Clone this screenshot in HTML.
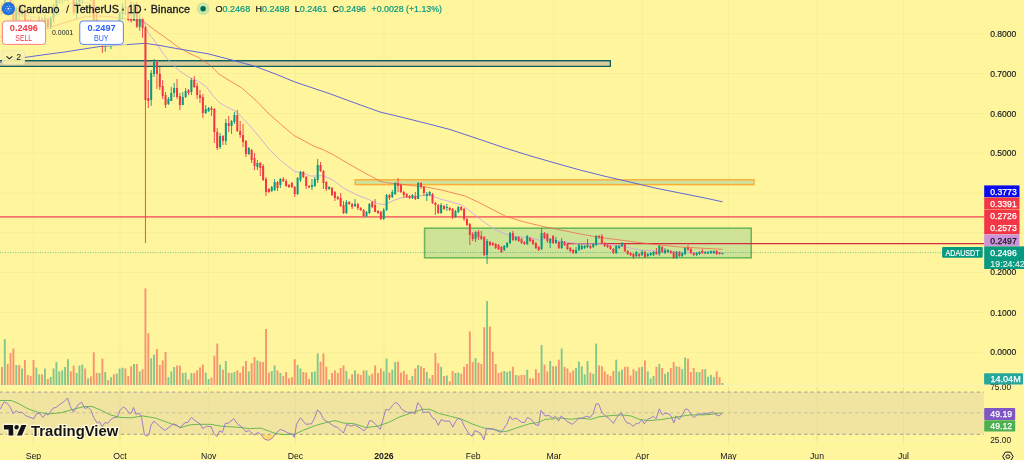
<!DOCTYPE html>
<html lang="en"><head><meta charset="utf-8"><title>Cardano / TetherUS chart</title>
<style>html,body{margin:0;padding:0;background:#fff59d;}body{width:1024px;height:460px;overflow:hidden;font-family:"Liberation Sans",sans-serif}svg{display:block}</style>
</head><body>
<svg width="1024" height="460" viewBox="0 0 1024 460" font-family="'Liberation Sans', sans-serif">
<rect width="1024" height="460" fill="#fff59d"/>
<path d="M33.4 0V446 M120.0 0V446 M208.7 0V446 M295.4 0V446 M383.9 0V446 M473.2 0V446 M553.9 0V446 M642.3 0V446 M728.5 0V446 M817.0 0V446 M903.5 0V446 M0 33.8H983 M0 73.6H983 M0 113.4H983 M0 153.2H983 M0 193.0H983 M0 232.8H983 M0 272.6H983 M0 312.4H983 M0 352.2H983" stroke="#f7ee97" stroke-width="1" fill="none"/>
<rect x="0" y="385" width="1024" height="1.2" fill="#f8f3bd"/>
<rect x="0" y="440.2" width="983" height="0.8" fill="#fbf4b0"/>
<rect x="0" y="392" width="983.8" height="42.3" fill="#f0e4a0"/>
<path d="M33.4 387V441 M120.0 387V441 M208.7 387V441 M295.4 387V441 M383.9 387V441 M473.2 387V441 M553.9 387V441 M642.3 387V441 M728.5 387V441 M817.0 387V441 M903.5 387V441" stroke="#e6dc90" stroke-width="1" fill="none" opacity="0.6"/>
<path d="M0 392.1H983.8" stroke="#96949a" stroke-width="0.9" stroke-dasharray="3.2 3.187" stroke-dashoffset="0.5" opacity="1" fill="none"/>
<path d="M0 412.8H983.8" stroke="#96949a" stroke-width="0.9" stroke-dasharray="3.2 3.187" stroke-dashoffset="0.5" opacity="0.55" fill="none"/>
<path d="M0 434.3H983.8" stroke="#96949a" stroke-width="0.9" stroke-dasharray="3.2 3.187" stroke-dashoffset="0.5" opacity="1" fill="none"/>
<rect x="0.97" y="367.0" width="1.9" height="18.0" fill="#f23645" opacity="0.5"/>
<rect x="3.84" y="339.0" width="1.9" height="46.0" fill="#089981" opacity="0.5"/>
<rect x="6.71" y="364.0" width="1.9" height="21.0" fill="#f23645" opacity="0.5"/>
<rect x="9.58" y="353.0" width="1.9" height="32.0" fill="#f23645" opacity="0.5"/>
<rect x="12.45" y="348.5" width="1.9" height="36.5" fill="#f23645" opacity="0.5"/>
<rect x="15.32" y="365.0" width="1.9" height="20.0" fill="#089981" opacity="0.5"/>
<rect x="18.19" y="365.0" width="1.9" height="20.0" fill="#f23645" opacity="0.5"/>
<rect x="21.06" y="368.5" width="1.9" height="16.5" fill="#089981" opacity="0.5"/>
<rect x="23.93" y="360.0" width="1.9" height="25.0" fill="#f23645" opacity="0.5"/>
<rect x="26.81" y="375.0" width="1.9" height="10.0" fill="#f23645" opacity="0.5"/>
<rect x="29.68" y="376.0" width="1.9" height="9.0" fill="#f23645" opacity="0.5"/>
<rect x="32.55" y="360.0" width="1.9" height="25.0" fill="#f23645" opacity="0.5"/>
<rect x="35.42" y="367.5" width="1.9" height="17.5" fill="#089981" opacity="0.5"/>
<rect x="38.29" y="374.3" width="1.9" height="10.7" fill="#089981" opacity="0.5"/>
<rect x="41.16" y="374.3" width="1.9" height="10.7" fill="#f23645" opacity="0.5"/>
<rect x="44.03" y="368.5" width="1.9" height="16.5" fill="#089981" opacity="0.5"/>
<rect x="46.90" y="379.0" width="1.9" height="6.0" fill="#f23645" opacity="0.5"/>
<rect x="49.77" y="377.0" width="1.9" height="8.0" fill="#089981" opacity="0.5"/>
<rect x="52.64" y="368.5" width="1.9" height="16.5" fill="#089981" opacity="0.5"/>
<rect x="55.51" y="362.0" width="1.9" height="23.0" fill="#089981" opacity="0.5"/>
<rect x="58.38" y="371.4" width="1.9" height="13.6" fill="#089981" opacity="0.5"/>
<rect x="61.25" y="370.4" width="1.9" height="14.6" fill="#089981" opacity="0.5"/>
<rect x="64.12" y="367.0" width="1.9" height="18.0" fill="#089981" opacity="0.5"/>
<rect x="66.99" y="359.2" width="1.9" height="25.8" fill="#089981" opacity="0.5"/>
<rect x="69.86" y="371.4" width="1.9" height="13.6" fill="#f23645" opacity="0.5"/>
<rect x="72.73" y="365.5" width="1.9" height="19.5" fill="#f23645" opacity="0.5"/>
<rect x="75.61" y="373.0" width="1.9" height="12.0" fill="#089981" opacity="0.5"/>
<rect x="78.48" y="365.5" width="1.9" height="19.5" fill="#089981" opacity="0.5"/>
<rect x="81.35" y="364.6" width="1.9" height="20.4" fill="#089981" opacity="0.5"/>
<rect x="84.22" y="368.5" width="1.9" height="16.5" fill="#f23645" opacity="0.5"/>
<rect x="87.09" y="378.5" width="1.9" height="6.5" fill="#089981" opacity="0.5"/>
<rect x="89.96" y="376.5" width="1.9" height="8.5" fill="#f23645" opacity="0.5"/>
<rect x="92.83" y="352.4" width="1.9" height="32.6" fill="#f23645" opacity="0.5"/>
<rect x="95.70" y="373.0" width="1.9" height="12.0" fill="#f23645" opacity="0.5"/>
<rect x="98.57" y="373.0" width="1.9" height="12.0" fill="#089981" opacity="0.5"/>
<rect x="101.44" y="358.7" width="1.9" height="26.3" fill="#f23645" opacity="0.5"/>
<rect x="104.31" y="372.0" width="1.9" height="13.0" fill="#089981" opacity="0.5"/>
<rect x="107.18" y="380.1" width="1.9" height="4.9" fill="#f23645" opacity="0.5"/>
<rect x="110.05" y="377.2" width="1.9" height="7.8" fill="#089981" opacity="0.5"/>
<rect x="112.92" y="374.3" width="1.9" height="10.7" fill="#f23645" opacity="0.5"/>
<rect x="115.79" y="373.6" width="1.9" height="11.4" fill="#089981" opacity="0.5"/>
<rect x="118.66" y="368.5" width="1.9" height="16.5" fill="#089981" opacity="0.5"/>
<rect x="121.54" y="367.7" width="1.9" height="17.3" fill="#089981" opacity="0.5"/>
<rect x="124.41" y="368.5" width="1.9" height="16.5" fill="#f23645" opacity="0.5"/>
<rect x="127.28" y="376.0" width="1.9" height="9.0" fill="#f23645" opacity="0.5"/>
<rect x="130.15" y="366.3" width="1.9" height="18.7" fill="#f23645" opacity="0.5"/>
<rect x="133.02" y="364.0" width="1.9" height="21.0" fill="#089981" opacity="0.5"/>
<rect x="135.89" y="364.0" width="1.9" height="21.0" fill="#f23645" opacity="0.5"/>
<rect x="138.76" y="371.4" width="1.9" height="13.6" fill="#089981" opacity="0.5"/>
<rect x="141.63" y="369.2" width="1.9" height="15.8" fill="#f23645" opacity="0.5"/>
<rect x="144.50" y="288.4" width="1.9" height="96.6" fill="#f23645" opacity="0.5"/>
<rect x="147.37" y="333.2" width="1.9" height="51.8" fill="#f23645" opacity="0.5"/>
<rect x="150.24" y="358.2" width="1.9" height="26.8" fill="#089981" opacity="0.5"/>
<rect x="153.11" y="354.6" width="1.9" height="30.4" fill="#089981" opacity="0.5"/>
<rect x="155.98" y="349.0" width="1.9" height="36.0" fill="#f23645" opacity="0.5"/>
<rect x="158.85" y="365.0" width="1.9" height="20.0" fill="#f23645" opacity="0.5"/>
<rect x="161.72" y="360.4" width="1.9" height="24.6" fill="#f23645" opacity="0.5"/>
<rect x="164.59" y="352.0" width="1.9" height="33.0" fill="#f23645" opacity="0.5"/>
<rect x="167.46" y="377.2" width="1.9" height="7.8" fill="#089981" opacity="0.5"/>
<rect x="170.34" y="371.4" width="1.9" height="13.6" fill="#089981" opacity="0.5"/>
<rect x="173.21" y="367.0" width="1.9" height="18.0" fill="#089981" opacity="0.5"/>
<rect x="176.08" y="365.5" width="1.9" height="19.5" fill="#f23645" opacity="0.5"/>
<rect x="178.95" y="365.5" width="1.9" height="19.5" fill="#f23645" opacity="0.5"/>
<rect x="181.82" y="373.0" width="1.9" height="12.0" fill="#089981" opacity="0.5"/>
<rect x="184.69" y="372.6" width="1.9" height="12.4" fill="#089981" opacity="0.5"/>
<rect x="187.56" y="379.6" width="1.9" height="5.4" fill="#f23645" opacity="0.5"/>
<rect x="190.43" y="373.0" width="1.9" height="12.0" fill="#089981" opacity="0.5"/>
<rect x="193.30" y="373.0" width="1.9" height="12.0" fill="#f23645" opacity="0.5"/>
<rect x="196.17" y="370.4" width="1.9" height="14.6" fill="#f23645" opacity="0.5"/>
<rect x="199.04" y="367.5" width="1.9" height="17.5" fill="#f23645" opacity="0.5"/>
<rect x="201.91" y="364.6" width="1.9" height="20.4" fill="#f23645" opacity="0.5"/>
<rect x="204.78" y="372.6" width="1.9" height="12.4" fill="#089981" opacity="0.5"/>
<rect x="207.65" y="379.0" width="1.9" height="6.0" fill="#089981" opacity="0.5"/>
<rect x="210.52" y="377.7" width="1.9" height="7.3" fill="#f23645" opacity="0.5"/>
<rect x="213.39" y="355.8" width="1.9" height="29.2" fill="#f23645" opacity="0.5"/>
<rect x="216.27" y="343.6" width="1.9" height="41.4" fill="#f23645" opacity="0.5"/>
<rect x="219.14" y="364.6" width="1.9" height="20.4" fill="#089981" opacity="0.5"/>
<rect x="222.01" y="369.7" width="1.9" height="15.3" fill="#f23645" opacity="0.5"/>
<rect x="224.88" y="361.0" width="1.9" height="24.0" fill="#089981" opacity="0.5"/>
<rect x="227.75" y="372.6" width="1.9" height="12.4" fill="#f23645" opacity="0.5"/>
<rect x="230.62" y="373.0" width="1.9" height="12.0" fill="#089981" opacity="0.5"/>
<rect x="233.49" y="372.0" width="1.9" height="13.0" fill="#089981" opacity="0.5"/>
<rect x="236.36" y="370.4" width="1.9" height="14.6" fill="#f23645" opacity="0.5"/>
<rect x="239.23" y="372.6" width="1.9" height="12.4" fill="#f23645" opacity="0.5"/>
<rect x="242.10" y="366.3" width="1.9" height="18.7" fill="#f23645" opacity="0.5"/>
<rect x="244.97" y="361.0" width="1.9" height="24.0" fill="#f23645" opacity="0.5"/>
<rect x="247.84" y="371.4" width="1.9" height="13.6" fill="#089981" opacity="0.5"/>
<rect x="250.71" y="363.3" width="1.9" height="21.7" fill="#f23645" opacity="0.5"/>
<rect x="253.58" y="357.0" width="1.9" height="28.0" fill="#f23645" opacity="0.5"/>
<rect x="256.45" y="360.4" width="1.9" height="24.6" fill="#089981" opacity="0.5"/>
<rect x="259.32" y="361.6" width="1.9" height="23.4" fill="#f23645" opacity="0.5"/>
<rect x="262.19" y="362.1" width="1.9" height="22.9" fill="#f23645" opacity="0.5"/>
<rect x="265.07" y="329.0" width="1.9" height="56.0" fill="#f23645" opacity="0.5"/>
<rect x="267.94" y="372.6" width="1.9" height="12.4" fill="#f23645" opacity="0.5"/>
<rect x="270.81" y="371.0" width="1.9" height="14.0" fill="#089981" opacity="0.5"/>
<rect x="273.68" y="365.5" width="1.9" height="19.5" fill="#089981" opacity="0.5"/>
<rect x="276.55" y="370.4" width="1.9" height="14.6" fill="#f23645" opacity="0.5"/>
<rect x="279.42" y="373.0" width="1.9" height="12.0" fill="#089981" opacity="0.5"/>
<rect x="282.29" y="376.0" width="1.9" height="9.0" fill="#f23645" opacity="0.5"/>
<rect x="285.16" y="372.0" width="1.9" height="13.0" fill="#f23645" opacity="0.5"/>
<rect x="288.03" y="378.4" width="1.9" height="6.6" fill="#f23645" opacity="0.5"/>
<rect x="290.90" y="377.2" width="1.9" height="7.8" fill="#f23645" opacity="0.5"/>
<rect x="293.77" y="359.2" width="1.9" height="25.8" fill="#f23645" opacity="0.5"/>
<rect x="296.64" y="365.0" width="1.9" height="20.0" fill="#089981" opacity="0.5"/>
<rect x="299.51" y="368.5" width="1.9" height="16.5" fill="#089981" opacity="0.5"/>
<rect x="302.38" y="372.0" width="1.9" height="13.0" fill="#f23645" opacity="0.5"/>
<rect x="305.25" y="372.6" width="1.9" height="12.4" fill="#f23645" opacity="0.5"/>
<rect x="308.12" y="379.0" width="1.9" height="6.0" fill="#f23645" opacity="0.5"/>
<rect x="310.99" y="372.0" width="1.9" height="13.0" fill="#089981" opacity="0.5"/>
<rect x="313.87" y="371.4" width="1.9" height="13.6" fill="#089981" opacity="0.5"/>
<rect x="316.74" y="353.4" width="1.9" height="31.6" fill="#089981" opacity="0.5"/>
<rect x="319.61" y="361.6" width="1.9" height="23.4" fill="#f23645" opacity="0.5"/>
<rect x="322.48" y="353.4" width="1.9" height="31.6" fill="#f23645" opacity="0.5"/>
<rect x="325.35" y="366.8" width="1.9" height="18.2" fill="#f23645" opacity="0.5"/>
<rect x="328.22" y="379.6" width="1.9" height="5.4" fill="#089981" opacity="0.5"/>
<rect x="331.09" y="373.0" width="1.9" height="12.0" fill="#f23645" opacity="0.5"/>
<rect x="333.96" y="370.4" width="1.9" height="14.6" fill="#f23645" opacity="0.5"/>
<rect x="336.83" y="373.0" width="1.9" height="12.0" fill="#f23645" opacity="0.5"/>
<rect x="339.70" y="368.0" width="1.9" height="17.0" fill="#f23645" opacity="0.5"/>
<rect x="342.57" y="365.5" width="1.9" height="19.5" fill="#f23645" opacity="0.5"/>
<rect x="345.44" y="371.0" width="1.9" height="14.0" fill="#089981" opacity="0.5"/>
<rect x="348.31" y="379.0" width="1.9" height="6.0" fill="#f23645" opacity="0.5"/>
<rect x="351.18" y="374.3" width="1.9" height="10.7" fill="#f23645" opacity="0.5"/>
<rect x="354.05" y="370.4" width="1.9" height="14.6" fill="#089981" opacity="0.5"/>
<rect x="356.92" y="373.8" width="1.9" height="11.2" fill="#f23645" opacity="0.5"/>
<rect x="359.80" y="375.0" width="1.9" height="10.0" fill="#f23645" opacity="0.5"/>
<rect x="362.67" y="370.4" width="1.9" height="14.6" fill="#f23645" opacity="0.5"/>
<rect x="365.54" y="370.4" width="1.9" height="14.6" fill="#089981" opacity="0.5"/>
<rect x="368.41" y="375.5" width="1.9" height="9.5" fill="#089981" opacity="0.5"/>
<rect x="371.28" y="373.8" width="1.9" height="11.2" fill="#f23645" opacity="0.5"/>
<rect x="374.15" y="365.5" width="1.9" height="19.5" fill="#f23645" opacity="0.5"/>
<rect x="377.02" y="373.0" width="1.9" height="12.0" fill="#f23645" opacity="0.5"/>
<rect x="379.89" y="368.5" width="1.9" height="16.5" fill="#f23645" opacity="0.5"/>
<rect x="382.76" y="371.4" width="1.9" height="13.6" fill="#089981" opacity="0.5"/>
<rect x="385.63" y="358.7" width="1.9" height="26.3" fill="#089981" opacity="0.5"/>
<rect x="388.50" y="372.6" width="1.9" height="12.4" fill="#f23645" opacity="0.5"/>
<rect x="391.37" y="369.7" width="1.9" height="15.3" fill="#089981" opacity="0.5"/>
<rect x="394.24" y="362.1" width="1.9" height="22.9" fill="#089981" opacity="0.5"/>
<rect x="397.11" y="361.6" width="1.9" height="23.4" fill="#f23645" opacity="0.5"/>
<rect x="399.98" y="372.6" width="1.9" height="12.4" fill="#f23645" opacity="0.5"/>
<rect x="402.85" y="371.0" width="1.9" height="14.0" fill="#f23645" opacity="0.5"/>
<rect x="405.72" y="374.3" width="1.9" height="10.7" fill="#f23645" opacity="0.5"/>
<rect x="408.60" y="380.1" width="1.9" height="4.9" fill="#f23645" opacity="0.5"/>
<rect x="411.47" y="376.0" width="1.9" height="9.0" fill="#089981" opacity="0.5"/>
<rect x="414.34" y="368.5" width="1.9" height="16.5" fill="#f23645" opacity="0.5"/>
<rect x="417.21" y="365.0" width="1.9" height="20.0" fill="#089981" opacity="0.5"/>
<rect x="420.08" y="366.3" width="1.9" height="18.7" fill="#f23645" opacity="0.5"/>
<rect x="422.95" y="368.0" width="1.9" height="17.0" fill="#f23645" opacity="0.5"/>
<rect x="425.82" y="372.0" width="1.9" height="13.0" fill="#089981" opacity="0.5"/>
<rect x="428.69" y="378.4" width="1.9" height="6.6" fill="#089981" opacity="0.5"/>
<rect x="431.56" y="375.0" width="1.9" height="10.0" fill="#f23645" opacity="0.5"/>
<rect x="434.43" y="353.0" width="1.9" height="32.0" fill="#f23645" opacity="0.5"/>
<rect x="437.30" y="363.3" width="1.9" height="21.7" fill="#f23645" opacity="0.5"/>
<rect x="440.17" y="366.8" width="1.9" height="18.2" fill="#089981" opacity="0.5"/>
<rect x="443.04" y="376.0" width="1.9" height="9.0" fill="#f23645" opacity="0.5"/>
<rect x="445.91" y="375.5" width="1.9" height="9.5" fill="#089981" opacity="0.5"/>
<rect x="448.78" y="381.4" width="1.9" height="3.6" fill="#f23645" opacity="0.5"/>
<rect x="451.65" y="371.0" width="1.9" height="14.0" fill="#f23645" opacity="0.5"/>
<rect x="454.52" y="373.0" width="1.9" height="12.0" fill="#089981" opacity="0.5"/>
<rect x="457.40" y="372.6" width="1.9" height="12.4" fill="#089981" opacity="0.5"/>
<rect x="460.27" y="373.8" width="1.9" height="11.2" fill="#f23645" opacity="0.5"/>
<rect x="463.14" y="366.8" width="1.9" height="18.2" fill="#f23645" opacity="0.5"/>
<rect x="466.01" y="364.0" width="1.9" height="21.0" fill="#f23645" opacity="0.5"/>
<rect x="468.88" y="331.5" width="1.9" height="53.5" fill="#f23645" opacity="0.5"/>
<rect x="471.75" y="362.1" width="1.9" height="22.9" fill="#f23645" opacity="0.5"/>
<rect x="474.62" y="358.2" width="1.9" height="26.8" fill="#089981" opacity="0.5"/>
<rect x="477.49" y="362.6" width="1.9" height="22.4" fill="#f23645" opacity="0.5"/>
<rect x="480.36" y="364.0" width="1.9" height="21.0" fill="#f23645" opacity="0.5"/>
<rect x="483.23" y="327.3" width="1.9" height="57.7" fill="#f23645" opacity="0.5"/>
<rect x="486.10" y="301.0" width="1.9" height="84.0" fill="#089981" opacity="0.5"/>
<rect x="488.97" y="326.6" width="1.9" height="58.4" fill="#f23645" opacity="0.5"/>
<rect x="491.84" y="351.7" width="1.9" height="33.3" fill="#f23645" opacity="0.5"/>
<rect x="494.71" y="364.0" width="1.9" height="21.0" fill="#f23645" opacity="0.5"/>
<rect x="497.58" y="373.0" width="1.9" height="12.0" fill="#f23645" opacity="0.5"/>
<rect x="500.45" y="372.0" width="1.9" height="13.0" fill="#f23645" opacity="0.5"/>
<rect x="503.33" y="371.0" width="1.9" height="14.0" fill="#089981" opacity="0.5"/>
<rect x="506.20" y="372.0" width="1.9" height="13.0" fill="#089981" opacity="0.5"/>
<rect x="509.07" y="371.0" width="1.9" height="14.0" fill="#089981" opacity="0.5"/>
<rect x="511.94" y="366.8" width="1.9" height="18.2" fill="#f23645" opacity="0.5"/>
<rect x="514.81" y="375.0" width="1.9" height="10.0" fill="#089981" opacity="0.5"/>
<rect x="517.68" y="375.5" width="1.9" height="9.5" fill="#f23645" opacity="0.5"/>
<rect x="520.55" y="375.0" width="1.9" height="10.0" fill="#f23645" opacity="0.5"/>
<rect x="523.42" y="375.0" width="1.9" height="10.0" fill="#f23645" opacity="0.5"/>
<rect x="526.29" y="369.7" width="1.9" height="15.3" fill="#089981" opacity="0.5"/>
<rect x="529.16" y="378.4" width="1.9" height="6.6" fill="#f23645" opacity="0.5"/>
<rect x="532.03" y="378.4" width="1.9" height="6.6" fill="#f23645" opacity="0.5"/>
<rect x="534.90" y="369.2" width="1.9" height="15.8" fill="#f23645" opacity="0.5"/>
<rect x="537.77" y="373.0" width="1.9" height="12.0" fill="#f23645" opacity="0.5"/>
<rect x="540.64" y="345.0" width="1.9" height="40.0" fill="#089981" opacity="0.5"/>
<rect x="543.51" y="364.6" width="1.9" height="20.4" fill="#f23645" opacity="0.5"/>
<rect x="546.38" y="371.4" width="1.9" height="13.6" fill="#f23645" opacity="0.5"/>
<rect x="549.25" y="361.0" width="1.9" height="24.0" fill="#089981" opacity="0.5"/>
<rect x="552.13" y="366.3" width="1.9" height="18.7" fill="#f23645" opacity="0.5"/>
<rect x="555.00" y="366.3" width="1.9" height="18.7" fill="#089981" opacity="0.5"/>
<rect x="557.87" y="359.7" width="1.9" height="25.3" fill="#f23645" opacity="0.5"/>
<rect x="560.74" y="348.5" width="1.9" height="36.5" fill="#089981" opacity="0.5"/>
<rect x="563.61" y="366.8" width="1.9" height="18.2" fill="#f23645" opacity="0.5"/>
<rect x="566.48" y="368.5" width="1.9" height="16.5" fill="#f23645" opacity="0.5"/>
<rect x="569.35" y="372.6" width="1.9" height="12.4" fill="#f23645" opacity="0.5"/>
<rect x="572.22" y="370.4" width="1.9" height="14.6" fill="#f23645" opacity="0.5"/>
<rect x="575.09" y="368.0" width="1.9" height="17.0" fill="#089981" opacity="0.5"/>
<rect x="577.96" y="361.6" width="1.9" height="23.4" fill="#089981" opacity="0.5"/>
<rect x="580.83" y="366.3" width="1.9" height="18.7" fill="#089981" opacity="0.5"/>
<rect x="583.70" y="374.3" width="1.9" height="10.7" fill="#089981" opacity="0.5"/>
<rect x="586.57" y="361.0" width="1.9" height="24.0" fill="#089981" opacity="0.5"/>
<rect x="589.44" y="372.6" width="1.9" height="12.4" fill="#f23645" opacity="0.5"/>
<rect x="592.31" y="373.8" width="1.9" height="11.2" fill="#089981" opacity="0.5"/>
<rect x="595.18" y="343.6" width="1.9" height="41.4" fill="#089981" opacity="0.5"/>
<rect x="598.05" y="365.5" width="1.9" height="19.5" fill="#f23645" opacity="0.5"/>
<rect x="600.93" y="366.3" width="1.9" height="18.7" fill="#f23645" opacity="0.5"/>
<rect x="603.80" y="371.4" width="1.9" height="13.6" fill="#f23645" opacity="0.5"/>
<rect x="606.67" y="374.3" width="1.9" height="10.7" fill="#f23645" opacity="0.5"/>
<rect x="609.54" y="376.0" width="1.9" height="9.0" fill="#f23645" opacity="0.5"/>
<rect x="612.41" y="371.0" width="1.9" height="14.0" fill="#f23645" opacity="0.5"/>
<rect x="615.28" y="359.7" width="1.9" height="25.3" fill="#089981" opacity="0.5"/>
<rect x="618.15" y="371.4" width="1.9" height="13.6" fill="#089981" opacity="0.5"/>
<rect x="621.02" y="369.7" width="1.9" height="15.3" fill="#089981" opacity="0.5"/>
<rect x="623.89" y="366.8" width="1.9" height="18.2" fill="#f23645" opacity="0.5"/>
<rect x="626.76" y="366.8" width="1.9" height="18.2" fill="#f23645" opacity="0.5"/>
<rect x="629.63" y="375.5" width="1.9" height="9.5" fill="#f23645" opacity="0.5"/>
<rect x="632.50" y="369.2" width="1.9" height="15.8" fill="#f23645" opacity="0.5"/>
<rect x="635.37" y="371.0" width="1.9" height="14.0" fill="#089981" opacity="0.5"/>
<rect x="638.24" y="367.5" width="1.9" height="17.5" fill="#f23645" opacity="0.5"/>
<rect x="641.11" y="366.8" width="1.9" height="18.2" fill="#089981" opacity="0.5"/>
<rect x="643.98" y="360.4" width="1.9" height="24.6" fill="#f23645" opacity="0.5"/>
<rect x="646.85" y="371.4" width="1.9" height="13.6" fill="#089981" opacity="0.5"/>
<rect x="649.73" y="378.4" width="1.9" height="6.6" fill="#089981" opacity="0.5"/>
<rect x="652.60" y="376.0" width="1.9" height="9.0" fill="#089981" opacity="0.5"/>
<rect x="655.47" y="366.8" width="1.9" height="18.2" fill="#f23645" opacity="0.5"/>
<rect x="658.34" y="364.0" width="1.9" height="21.0" fill="#089981" opacity="0.5"/>
<rect x="661.21" y="368.0" width="1.9" height="17.0" fill="#f23645" opacity="0.5"/>
<rect x="664.08" y="373.8" width="1.9" height="11.2" fill="#089981" opacity="0.5"/>
<rect x="666.95" y="372.0" width="1.9" height="13.0" fill="#089981" opacity="0.5"/>
<rect x="669.82" y="368.0" width="1.9" height="17.0" fill="#f23645" opacity="0.5"/>
<rect x="672.69" y="362.1" width="1.9" height="22.9" fill="#f23645" opacity="0.5"/>
<rect x="675.56" y="366.3" width="1.9" height="18.7" fill="#089981" opacity="0.5"/>
<rect x="678.43" y="366.8" width="1.9" height="18.2" fill="#f23645" opacity="0.5"/>
<rect x="681.30" y="369.2" width="1.9" height="15.8" fill="#089981" opacity="0.5"/>
<rect x="684.17" y="357.5" width="1.9" height="27.5" fill="#089981" opacity="0.5"/>
<rect x="687.04" y="358.7" width="1.9" height="26.3" fill="#f23645" opacity="0.5"/>
<rect x="689.91" y="372.0" width="1.9" height="13.0" fill="#f23645" opacity="0.5"/>
<rect x="692.78" y="368.0" width="1.9" height="17.0" fill="#f23645" opacity="0.5"/>
<rect x="695.66" y="372.0" width="1.9" height="13.0" fill="#089981" opacity="0.5"/>
<rect x="698.53" y="372.0" width="1.9" height="13.0" fill="#089981" opacity="0.5"/>
<rect x="701.40" y="369.2" width="1.9" height="15.8" fill="#f23645" opacity="0.5"/>
<rect x="704.27" y="369.2" width="1.9" height="15.8" fill="#089981" opacity="0.5"/>
<rect x="707.14" y="376.7" width="1.9" height="8.3" fill="#089981" opacity="0.5"/>
<rect x="710.01" y="375.0" width="1.9" height="10.0" fill="#089981" opacity="0.5"/>
<rect x="712.88" y="377.2" width="1.9" height="7.8" fill="#089981" opacity="0.5"/>
<rect x="715.75" y="371.4" width="1.9" height="13.6" fill="#f23645" opacity="0.5"/>
<rect x="718.62" y="377.2" width="1.9" height="7.8" fill="#f23645" opacity="0.5"/>
<rect x="721.49" y="383.0" width="1.9" height="2.0" fill="#089981" opacity="0.5"/>
<rect x="0" y="60" width="611" height="7" fill="#0c6060"/><rect x="0" y="61.45" width="609.7" height="4.3" fill="#dacb98"/>
<rect x="355.2" y="179.8" width="398.8" height="4.8" fill="#cfe39a" stroke="#ffab35" stroke-width="1.4"/>
<rect x="424.6" y="228.2" width="326.6" height="29.6" fill="#cbe296" fill-opacity="0.95" stroke="#6fb85a" stroke-width="1.6"/>
<path d="M0 216.9H984" stroke="#f5746a" stroke-width="1.75" fill="none"/>
<path d="M567 243.55H984" stroke="#d32a42" stroke-width="1.15" fill="none"/>
<path d="M0 252.55H984" stroke="#089981" stroke-width="0.85" stroke-dasharray="1.1 1.4" opacity="0.6" fill="none"/>
<path d="M-2.0 14.0 L12.6 13.2 L31.5 16.4 L44.0 19.0 L50.4 17.7 L60.5 12.6 L70.6 3.8 L88.0 2.5 L100.0 7.6 L113.5 12.6 L126.0 13.2 L137.0 15.0 L143.8 21.4 L148.2 32.8 L153.2 39.0 L159.5 47.9 L164.6 55.5 L168.4 60.0 L178.4 70.0 L188.5 77.0 L198.6 81.5 L206.2 86.6 L213.8 96.7 L220.0 103.0 L225.0 106.0 L237.0 112.0 L250.0 126.0 L257.8 135.0 L269.8 150.0 L282.4 162.0 L295.0 171.6 L302.6 172.8 L310.2 176.0 L317.7 176.0 L322.8 175.6 L332.9 180.0 L343.5 188.2 L356.0 194.5 L368.7 199.5 L378.8 204.0 L385.0 204.6 L392.7 200.8 L400.3 198.0 L412.9 197.0 L425.5 195.0 L433.0 196.2 L440.0 199.0 L448.0 201.0 L462.0 205.0 L475.0 215.0 L483.9 222.0 L495.2 229.6 L507.8 235.2 L520.4 237.1 L533.0 238.4 L539.4 240.3 L545.7 238.4 L558.3 240.9 L570.9 242.8 L583.5 244.0 L596.0 243.7 L610.0 244.5 L625.0 247.0 L640.0 250.0 L660.0 251.5 L690.0 252.5 L722.5 252.8" stroke="#cda9dc" stroke-width="0.9" fill="none" stroke-linejoin="round"/>
<path d="M-2.0 37.5 L20.0 33.5 L48.0 28.4 L60.5 24.0 L70.6 20.8 L80.7 17.7 L93.3 15.8 L107.0 16.4 L126.0 18.9 L138.0 20.5 L144.4 22.0 L153.2 29.0 L165.8 37.8 L178.4 47.3 L191.0 54.2 L198.6 57.6 L210.0 65.0 L218.8 74.0 L228.9 80.3 L241.5 87.8 L256.0 100.4 L268.0 113.0 L281.0 124.5 L294.0 135.5 L302.6 140.0 L314.0 146.3 L322.8 149.5 L332.9 154.5 L345.5 162.0 L360.0 170.3 L368.7 175.0 L380.0 181.2 L387.7 182.9 L400.3 184.1 L412.9 185.7 L425.5 186.9 L440.0 189.7 L465.0 196.0 L480.0 203.0 L505.0 216.0 L524.2 222.0 L545.7 227.0 L564.6 230.8 L583.5 234.6 L596.0 236.9 L620.0 240.0 L650.0 244.0 L680.0 247.0 L722.5 249.3" stroke="#f4604a" stroke-opacity="0.85" stroke-width="0.85" fill="none" stroke-linejoin="round"/>
<path d="M-2.0 62.5 L25.0 57.4 L45.0 54.6 L64.0 52.1 L100.0 46.5 L128.0 44.5 L145.0 43.3 L160.0 45.5 L178.0 48.8 L208.0 53.8 L230.0 59.5 L255.0 66.3 L275.0 73.8 L295.0 82.0 L330.0 93.8 L355.0 103.0 L380.0 112.0 L405.0 118.0 L430.0 124.3 L450.0 129.5 L480.0 139.5 L505.0 148.0 L530.0 155.8 L555.0 163.0 L580.0 170.0 L605.0 176.3 L630.0 182.0 L655.0 188.0 L680.0 193.0 L705.0 198.0 L722.5 201.8" stroke="#5a60d8" stroke-width="0.95" fill="none" stroke-linejoin="round"/>
<path d="M4.79 -21.6V14.1 M16.27 6.0V22.1 M22.01 7.6V17.0 M36.37 21.4V36.2 M39.24 16.4V30.7 M44.98 14.8V29.9 M50.72 16.8V29.1 M53.59 3.7V22.3 M56.46 -3.5V14.9 M59.33 -6.4V3.6 M62.20 -10.6V4.1 M65.07 -9.0V1.3 M67.94 -22.8V1.3 M76.56 -2.2V18.8 M79.43 -4.5V6.8 M82.30 -17.7V3.9 M88.04 -15.1V-2.3 M99.52 21.3V33.8 M105.26 37.9V51.8 M111.00 32.7V49.0 M116.74 29.2V38.2 M119.61 12.0V38.4 M122.49 3.3V19.6 M133.97 2.5V20.4 M139.71 13.2V30.7 M151.19 70.0V106.0 M154.06 59.0V77.0 M168.41 97.0V105.0 M171.29 87.0V101.0 M174.16 83.0V97.0 M182.77 92.0V105.0 M185.64 88.0V98.0 M191.38 78.0V95.0 M205.73 105.0V114.0 M208.60 107.0V112.0 M220.09 133.0V149.0 M225.83 119.0V145.0 M231.57 120.0V134.0 M234.44 112.0V124.0 M248.79 147.0V155.0 M257.40 160.0V170.0 M271.76 186.0V192.0 M274.63 179.0V191.0 M280.37 178.0V188.0 M297.59 177.0V195.0 M300.46 171.0V182.0 M311.94 179.0V190.0 M314.82 177.0V187.0 M317.69 159.0V183.0 M329.17 186.0V190.0 M346.39 200.0V214.0 M355.00 199.0V207.0 M366.49 211.0V217.0 M369.36 203.0V214.0 M383.71 208.0V220.0 M386.58 194.0V211.0 M392.32 190.0V198.0 M395.19 182.0V195.0 M412.42 194.0V199.0 M418.16 182.0V199.0 M426.77 192.0V201.0 M429.64 191.0V196.0 M441.12 203.0V214.0 M446.86 204.0V211.0 M455.47 210.0V218.0 M458.35 206.0V213.0 M475.57 231.0V242.0 M487.05 239.0V264.0 M504.28 245.0V251.0 M507.15 242.0V248.0 M510.02 232.0V244.0 M515.76 236.0V241.0 M527.24 235.0V245.0 M541.59 228.0V250.0 M550.20 238.0V248.0 M555.95 237.0V244.0 M561.69 238.0V249.0 M576.04 247.0V254.0 M578.91 243.0V251.0 M581.78 244.0V250.0 M584.65 245.0V249.0 M587.52 239.0V248.0 M593.26 243.0V248.0 M596.13 235.0V246.0 M616.23 245.0V254.0 M619.10 245.0V249.0 M621.97 242.0V247.0 M636.32 251.0V257.0 M642.06 250.0V256.0 M647.80 253.0V257.0 M650.68 252.0V256.0 M653.55 251.0V256.0 M659.29 245.0V256.0 M665.03 248.0V254.0 M667.90 249.0V253.0 M676.51 251.0V259.0 M682.25 252.0V257.0 M685.12 247.0V255.0 M696.61 252.0V256.0 M699.48 251.0V255.0 M705.22 251.0V254.0 M708.09 251.0V254.0 M710.96 250.5V254.0 M713.83 250.5V254.0 M722.44 252.7V254.4" stroke="#089981" stroke-width="0.9" fill="none"/>
<path d="M3.79 -15.9h2V12.0h-2z M15.27 8.0h2V20.0h-2z M21.01 10.0h2V14.0h-2z M35.37 24.0h2V33.9h-2z M38.24 20.0h2V24.0h-2z M43.98 19.6h2V29.1h-2z M49.72 18.0h2V26.7h-2z M52.59 9.6h2V18.0h-2z M55.46 0.1h2V9.6h-2z M58.33 -1.9h2V0.1h-2z M61.20 -3.9h2V-1.9h-2z M64.07 -5.9h2V-3.9h-2z M66.94 -17.8h2V-5.9h-2z M75.56 2.1h2V12.4h-2z M78.43 -1.9h2V2.1h-2z M81.30 -15.9h2V-1.9h-2z M87.04 -7.9h2V-5.9h-2z M98.52 25.9h2V27.9h-2z M104.26 39.9h2V43.9h-2z M110.00 33.9h2V41.9h-2z M115.74 31.9h2V35.9h-2z M118.61 14.0h2V31.9h-2z M121.49 7.2h2V14.0h-2z M132.97 4.8h2V20.8h-2z M138.71 18.4h2V26.7h-2z M150.19 73.0h2V100.0h-2z M153.06 62.0h2V74.0h-2z M167.41 99.0h2V104.0h-2z M170.29 93.0h2V101.0h-2z M173.16 88.0h2V93.0h-2z M181.77 97.0h2V105.0h-2z M184.64 91.0h2V97.0h-2z M190.38 80.0h2V92.0h-2z M204.73 109.0h2V113.0h-2z M207.60 108.0h2V111.0h-2z M219.09 136.0h2V147.0h-2z M224.83 123.0h2V141.0h-2z M230.57 121.0h2V126.0h-2z M233.44 115.0h2V122.0h-2z M247.79 148.0h2V154.0h-2z M256.40 163.0h2V167.0h-2z M270.76 187.0h2V191.0h-2z M273.63 182.0h2V190.0h-2z M279.37 179.0h2V185.0h-2z M296.59 178.0h2V194.0h-2z M299.46 172.0h2V180.0h-2z M310.94 185.0h2V187.0h-2z M313.82 179.0h2V186.0h-2z M316.69 165.0h2V180.0h-2z M328.17 187.0h2V189.0h-2z M345.39 202.0h2V213.0h-2z M354.00 204.0h2V206.0h-2z M365.49 212.0h2V216.0h-2z M368.36 204.0h2V213.0h-2z M382.71 210.0h2V219.0h-2z M385.58 195.0h2V210.0h-2z M391.32 192.0h2V197.0h-2z M394.19 183.0h2V194.0h-2z M411.42 195.0h2V198.0h-2z M417.16 183.0h2V199.0h-2z M425.77 194.0h2V196.0h-2z M428.64 192.0h2V195.0h-2z M440.12 205.0h2V213.0h-2z M445.86 207.0h2V208.0h-2z M454.47 211.0h2V217.0h-2z M457.35 207.0h2V212.0h-2z M474.57 232.0h2V239.0h-2z M486.05 241.0h2V255.0h-2z M503.28 246.0h2V250.0h-2z M506.15 243.0h2V247.0h-2z M509.02 233.0h2V243.0h-2z M514.76 237.0h2V240.0h-2z M526.24 236.0h2V244.0h-2z M540.59 233.0h2V249.0h-2z M549.20 239.0h2V243.0h-2z M554.95 240.0h2V243.0h-2z M560.69 241.0h2V248.0h-2z M575.04 250.0h2V253.0h-2z M577.91 245.0h2V250.0h-2z M580.78 246.0h2V249.0h-2z M583.65 246.0h2V248.0h-2z M586.52 245.0h2V247.0h-2z M592.26 244.0h2V247.0h-2z M595.13 236.0h2V245.0h-2z M615.23 246.0h2V253.0h-2z M618.10 246.0h2V248.0h-2z M620.97 243.0h2V246.0h-2z M635.32 252.0h2V256.0h-2z M641.06 252.0h2V255.0h-2z M646.80 254.0h2V256.0h-2z M649.68 253.0h2V255.0h-2z M652.55 252.0h2V255.0h-2z M658.29 246.0h2V254.0h-2z M664.03 250.0h2V253.0h-2z M666.90 250.0h2V252.0h-2z M675.51 252.0h2V258.0h-2z M681.25 253.0h2V256.0h-2z M684.12 248.0h2V254.0h-2z M695.61 253.0h2V255.0h-2z M698.48 252.0h2V254.0h-2z M704.22 252.0h2V253.5h-2z M707.09 252.0h2V253.5h-2z M709.96 251.0h2V253.0h-2z M712.83 251.0h2V253.0h-2z M721.44 252.9h2V254.1h-2z" fill="#089981"/>
<path d="M1.92 2.4V14.6 M7.66 -20.9V-4.0 M10.53 -9.9V8.9 M13.40 2.2V24.3 M19.14 3.7V20.9 M24.88 4.4V31.6 M27.76 18.7V30.1 M30.63 18.1V29.8 M33.50 20.9V37.3 M42.11 17.2V34.4 M47.85 18.0V29.1 M70.81 -24.1V-8.4 M73.69 -19.7V14.8 M85.17 -22.3V-0.7 M90.91 -13.9V1.5 M93.78 -9.2V24.1 M96.65 12.6V35.5 M102.39 25.1V53.0 M108.13 33.0V45.3 M113.87 32.2V40.4 M125.36 -0.3V15.2 M128.23 6.0V21.2 M131.10 1.3V22.8 M136.84 2.1V27.9 M142.58 17.2V37.9 M145.45 26.0V243.0 M148.32 80.0V108.0 M156.93 60.0V89.0 M159.80 67.0V90.0 M162.67 80.0V99.0 M165.54 92.0V108.0 M177.03 79.0V99.0 M179.90 93.0V110.0 M188.51 89.0V95.0 M194.25 76.0V88.0 M197.12 83.0V99.0 M199.99 90.0V103.0 M202.86 94.0V118.0 M211.47 106.0V116.0 M214.34 108.0V143.0 M217.22 128.0V150.0 M222.96 135.0V145.0 M228.70 116.0V132.0 M237.31 110.0V132.0 M240.18 121.0V138.0 M243.05 124.0V147.0 M245.92 140.0V157.0 M251.66 149.0V163.0 M254.53 153.0V170.0 M260.27 162.0V176.0 M263.14 164.0V181.0 M266.02 177.0V196.0 M268.89 188.0V193.0 M277.50 181.0V191.0 M283.24 177.0V182.0 M286.11 179.0V187.0 M288.98 184.0V188.0 M291.85 182.0V188.0 M294.72 186.0V197.0 M303.33 171.0V178.0 M306.20 176.0V189.0 M309.07 185.0V188.0 M320.56 162.0V172.0 M323.43 170.0V189.0 M326.30 181.0V191.0 M332.04 187.0V196.0 M334.91 191.0V201.0 M337.78 196.0V200.0 M340.65 193.0V207.0 M343.52 201.0V214.0 M349.26 201.0V205.0 M352.13 203.0V209.0 M357.87 203.0V210.0 M360.75 207.0V211.0 M363.62 209.0V217.0 M372.23 201.0V208.0 M375.10 199.0V212.0 M377.97 210.0V214.0 M380.84 211.0V220.0 M389.45 194.0V200.0 M398.06 178.0V192.0 M400.93 184.0V193.0 M403.80 191.0V198.0 M406.67 193.0V198.0 M409.55 195.0V199.0 M415.29 192.0V200.0 M421.03 182.0V189.0 M423.90 186.0V196.0 M432.51 193.0V204.0 M435.38 202.0V215.0 M438.25 204.0V214.0 M443.99 205.0V210.0 M449.73 207.0V211.0 M452.60 208.0V219.0 M461.22 206.0V211.0 M464.09 208.0V221.0 M466.96 218.0V226.0 M469.83 223.0V245.0 M472.70 232.0V241.0 M478.44 230.0V240.0 M481.31 231.0V240.0 M484.18 236.0V256.0 M489.92 241.0V246.0 M492.79 242.0V246.0 M495.66 243.0V249.0 M498.53 244.0V250.0 M501.40 246.0V253.0 M512.89 231.0V241.0 M518.63 236.0V242.0 M521.50 238.0V244.0 M524.37 241.0V245.0 M530.11 237.0V242.0 M532.98 239.0V245.0 M535.85 242.0V249.0 M538.72 246.0V251.0 M544.46 232.0V239.0 M547.33 233.0V243.0 M553.08 235.0V244.0 M558.82 241.0V249.0 M564.56 241.0V246.0 M567.43 243.0V250.0 M570.30 247.0V252.0 M573.17 249.0V254.0 M590.39 245.0V249.0 M599.00 235.0V239.0 M601.88 234.0V244.0 M604.75 242.0V247.0 M607.62 244.0V248.0 M610.49 245.0V250.0 M613.36 248.0V254.0 M624.84 243.0V252.0 M627.71 250.0V255.0 M630.58 252.0V256.0 M633.45 253.0V259.0 M639.19 253.0V258.0 M644.93 251.0V258.0 M656.42 248.0V255.0 M662.16 246.0V253.0 M670.77 250.0V254.0 M673.64 251.0V259.0 M679.38 251.0V257.0 M687.99 245.0V251.0 M690.86 248.0V254.0 M693.73 252.0V256.0 M702.35 249.0V254.0 M716.70 250.0V255.0 M719.57 252.0V254.5" stroke="#f23645" stroke-width="0.9" fill="none"/>
<path d="M0.92 6.0h2V12.0h-2z M6.66 -15.9h2V-7.9h-2z M9.53 -7.9h2V4.1h-2z M12.40 4.1h2V20.0h-2z M18.14 8.0h2V14.0h-2z M23.88 10.0h2V24.0h-2z M26.76 24.0h2V25.9h-2z M29.63 25.9h2V27.9h-2z M32.50 27.9h2V33.9h-2z M41.11 20.0h2V29.1h-2z M46.85 19.6h2V26.7h-2z M69.81 -17.8h2V-11.9h-2z M72.69 -11.9h2V12.4h-2z M84.17 -15.9h2V-5.9h-2z M89.91 -7.9h2V-3.9h-2z M92.78 -3.9h2V19.6h-2z M95.65 19.6h2V27.9h-2z M101.39 25.9h2V43.9h-2z M107.13 39.9h2V41.9h-2z M112.87 33.9h2V35.9h-2z M124.36 7.2h2V8.0h-2z M127.23 7.6h2V19.6h-2z M130.10 19.6h2V20.8h-2z M135.84 4.8h2V26.7h-2z M141.58 18.4h2V27.9h-2z M144.45 27.5h2V100.0h-2z M147.32 98.0h2V101.0h-2z M155.93 62.0h2V74.0h-2z M158.80 74.0h2V87.0h-2z M161.67 86.0h2V96.0h-2z M164.54 95.0h2V105.0h-2z M176.03 88.0h2V97.0h-2z M178.90 96.0h2V105.0h-2z M187.51 90.0h2V93.0h-2z M193.25 80.0h2V87.0h-2z M196.12 86.0h2V95.0h-2z M198.99 95.0h2V98.0h-2z M201.86 97.0h2V113.0h-2z M210.47 108.0h2V110.0h-2z M213.34 109.0h2V132.0h-2z M216.22 132.0h2V148.0h-2z M221.96 136.0h2V141.0h-2z M227.70 123.0h2V126.0h-2z M236.31 115.0h2V131.0h-2z M239.18 131.0h2V135.0h-2z M242.05 135.0h2V142.0h-2z M244.92 141.0h2V154.0h-2z M250.66 150.0h2V160.0h-2z M253.53 158.0h2V166.0h-2z M259.27 163.0h2V168.0h-2z M262.14 166.0h2V180.0h-2z M265.02 179.0h2V192.0h-2z M267.89 189.0h2V192.0h-2z M276.50 182.0h2V188.0h-2z M282.24 179.0h2V181.0h-2z M285.11 181.0h2V186.0h-2z M287.98 185.0h2V187.0h-2z M290.85 183.0h2V187.0h-2z M293.72 187.0h2V194.0h-2z M302.33 172.0h2V177.0h-2z M305.20 177.0h2V186.0h-2z M308.07 186.0h2V187.5h-2z M319.56 165.0h2V171.0h-2z M322.43 171.0h2V183.0h-2z M325.30 182.0h2V189.0h-2z M331.04 188.0h2V195.0h-2z M333.91 192.0h2V198.0h-2z M336.78 197.0h2V199.0h-2z M339.65 198.0h2V206.0h-2z M342.52 205.0h2V213.0h-2z M348.26 202.0h2V204.0h-2z M351.13 204.0h2V207.0h-2z M356.87 204.0h2V208.0h-2z M359.75 208.0h2V210.0h-2z M362.62 210.0h2V216.0h-2z M371.23 202.0h2V207.0h-2z M374.10 205.0h2V212.0h-2z M376.97 211.0h2V213.0h-2z M379.84 212.0h2V219.0h-2z M388.45 195.0h2V198.0h-2z M397.06 183.0h2V186.0h-2z M399.93 185.0h2V192.0h-2z M402.80 192.0h2V195.0h-2z M405.67 194.0h2V197.0h-2z M408.55 196.0h2V198.0h-2z M414.29 196.0h2V199.0h-2z M420.03 183.0h2V187.0h-2z M422.90 187.0h2V193.0h-2z M431.51 194.0h2V203.0h-2z M434.38 203.0h2V205.0h-2z M437.25 205.0h2V213.0h-2z M442.99 206.0h2V209.0h-2z M448.73 208.0h2V210.0h-2z M451.60 209.0h2V217.0h-2z M460.22 207.0h2V210.0h-2z M463.09 209.0h2V219.0h-2z M465.96 219.0h2V225.0h-2z M468.83 224.0h2V235.0h-2z M471.70 234.0h2V239.0h-2z M477.44 232.0h2V237.0h-2z M480.31 236.0h2V239.0h-2z M483.18 237.0h2V255.0h-2z M488.92 242.0h2V245.0h-2z M491.79 243.0h2V245.0h-2z M494.66 244.0h2V248.0h-2z M497.53 245.0h2V249.0h-2z M500.40 247.0h2V252.0h-2z M511.89 233.0h2V240.0h-2z M517.63 237.0h2V241.0h-2z M520.50 239.0h2V243.0h-2z M523.37 242.0h2V244.0h-2z M529.11 238.0h2V241.0h-2z M531.98 240.0h2V244.0h-2z M534.85 243.0h2V248.0h-2z M537.72 247.0h2V250.0h-2z M543.46 233.0h2V238.0h-2z M546.33 234.0h2V241.0h-2z M552.08 236.0h2V243.0h-2z M557.82 242.0h2V248.0h-2z M563.56 242.0h2V245.0h-2z M566.43 244.0h2V249.0h-2z M569.30 248.0h2V251.0h-2z M572.17 250.0h2V253.0h-2z M589.39 246.0h2V248.0h-2z M598.00 236.0h2V237.3h-2z M600.88 236.0h2V243.0h-2z M603.75 243.0h2V246.0h-2z M606.62 245.0h2V247.0h-2z M609.49 246.0h2V249.0h-2z M612.36 249.0h2V253.0h-2z M623.84 244.0h2V251.0h-2z M626.71 251.0h2V254.0h-2z M629.58 253.0h2V255.0h-2z M632.45 254.0h2V257.0h-2z M638.19 254.0h2V256.0h-2z M643.93 252.0h2V257.0h-2z M655.42 252.0h2V254.0h-2z M661.16 247.0h2V252.0h-2z M669.77 251.0h2V253.0h-2z M672.64 252.0h2V258.0h-2z M678.38 252.0h2V256.0h-2z M686.99 248.0h2V249.5h-2z M689.86 249.0h2V253.0h-2z M692.73 253.0h2V255.0h-2z M701.35 251.0h2V253.0h-2z M715.70 251.0h2V254.0h-2z M718.57 252.5h2V254.0h-2z" fill="#f23645"/>
<clipPath id="os"><rect x="0" y="434.6" width="983" height="10"/></clipPath>
<path d="M0.0 409.3 L4.1 401.8 L7.5 403.7 L10.3 407.4 L13.1 413.6 L16.0 410.8 L18.8 412.5 L22.1 412.1 L25.3 415.5 L30.0 417.4 L33.8 418.7 L36.6 413.6 L39.8 413.6 L42.8 417.4 L46.0 413.6 L47.8 415.0 L53.4 408.0 L56.3 407.4 L60.0 404.3 L63.8 401.8 L67.5 398.0 L70.3 406.5 L73.5 412.1 L77.8 405.0 L81.6 402.2 L84.8 408.4 L88.1 407.4 L91.0 410.3 L93.8 417.8 L97.5 423.4 L99.4 421.5 L102.2 426.8 L105.0 422.4 L107.8 423.4 L110.6 419.6 L113.4 417.8 L117.2 417.4 L120.0 410.3 L123.4 406.9 L126.0 408.8 L129.4 413.6 L131.3 413.1 L133.5 407.4 L136.0 414.4 L139.1 413.1 L141.6 417.4 L144.4 434.6 L147.2 436.1 L149.0 434.3 L151.0 425.3 L153.8 421.1 L156.6 423.4 L159.4 426.2 L165.0 430.5 L168.8 427.5 L173.4 423.8 L177.2 425.3 L180.0 428.1 L184.7 422.8 L187.8 422.4 L191.5 417.4 L196.2 421.5 L200.0 423.8 L202.8 428.6 L206.5 426.2 L211.2 426.8 L214.0 433.7 L216.8 436.5 L219.6 430.9 L222.4 432.4 L225.3 423.4 L228.0 423.4 L233.7 418.7 L237.4 423.8 L242.1 427.1 L245.9 431.8 L248.7 430.5 L254.3 435.0 L258.0 432.4 L260.9 434.6 L264.6 439.3 L268.4 440.3 L272.1 438.4 L275.9 433.1 L280.6 429.4 L284.3 430.9 L288.0 433.1 L291.8 433.7 L294.3 437.4 L296.5 424.3 L300.3 417.8 L305.9 424.3 L311.5 423.8 L314.3 418.7 L317.5 409.9 L320.0 412.1 L323.7 419.6 L328.4 422.4 L334.0 426.2 L337.8 427.5 L343.4 433.1 L346.8 424.3 L350.9 426.2 L354.6 424.9 L360.3 428.1 L364.0 430.9 L366.8 427.5 L369.6 420.6 L372.4 421.1 L375.5 424.3 L380.2 429.4 L383.0 419.6 L385.8 409.3 L388.6 410.3 L392.4 405.6 L395.2 402.4 L398.0 403.7 L401.8 409.3 L407.4 412.5 L412.0 412.1 L414.9 414.0 L417.7 402.8 L420.5 405.6 L423.3 412.5 L428.9 411.8 L432.7 418.1 L435.5 419.6 L438.3 425.3 L441.1 419.6 L444.9 421.1 L449.6 421.1 L452.8 427.1 L456.1 420.6 L458.9 418.1 L461.8 420.6 L464.6 426.8 L469.3 434.3 L472.1 436.1 L474.9 430.5 L480.5 433.1 L483.9 439.9 L486.5 428.6 L489.9 429.0 L493.6 429.4 L497.4 430.9 L501.1 432.4 L506.8 424.3 L509.9 416.3 L512.4 419.6 L516.1 418.1 L521.8 422.4 L524.6 422.4 L527.4 417.4 L531.1 419.3 L534.9 424.3 L538.6 425.6 L540.9 410.3 L545.2 415.9 L549.0 415.5 L552.7 418.1 L555.4 416.3 L558.6 421.1 L561.4 415.9 L567.0 421.5 L572.6 424.3 L578.3 418.7 L582.9 417.8 L586.7 416.3 L590.4 417.4 L593.3 413.1 L596.1 403.7 L598.9 404.3 L601.7 412.1 L605.4 415.9 L609.2 418.7 L613.5 423.4 L616.7 417.4 L621.4 412.5 L624.2 418.7 L627.0 423.0 L629.8 423.4 L633.0 426.2 L636.4 423.4 L638.6 423.8 L641.6 419.6 L644.3 423.8 L647.6 419.3 L650.4 418.1 L653.3 416.3 L656.1 418.7 L659.3 408.8 L662.3 414.9 L665.4 413.1 L669.2 414.0 L671.1 416.3 L673.9 423.0 L676.1 415.9 L679.1 419.3 L682.3 414.9 L685.1 409.3 L687.9 409.3 L690.8 414.0 L693.9 417.8 L697.3 414.4 L700.1 413.6 L702.0 414.4 L704.8 413.4 L710.4 413.1 L713.3 411.8 L716.1 414.9 L718.9 415.9 L722.3 413.1 L722.3 434.3 L0 434.3z" fill="#ff9800" opacity="0.3" clip-path="url(#os)"/>
<path d="M0.0 400.5 L11.3 400.5 L18.8 403.7 L28.1 408.8 L37.5 412.1 L48.8 414.0 L61.9 412.5 L75.0 408.8 L84.4 406.5 L91.9 406.5 L101.3 410.3 L110.6 415.0 L120.0 417.4 L131.3 417.8 L142.5 415.9 L155.6 418.1 L165.0 421.5 L174.4 424.9 L181.0 427.5 L189.6 424.9 L199.0 424.3 L210.3 424.3 L221.5 426.2 L236.5 427.1 L249.6 428.6 L260.9 428.1 L268.4 430.9 L275.9 433.7 L283.4 434.6 L294.6 434.3 L304.0 429.9 L315.3 425.6 L326.5 422.4 L335.0 420.6 L343.4 423.0 L354.6 423.8 L365.9 427.5 L377.4 426.2 L388.6 422.4 L399.9 416.8 L411.1 413.1 L422.4 409.3 L429.9 409.3 L439.3 413.6 L450.5 416.3 L461.8 419.3 L473.0 424.3 L484.3 428.1 L493.6 429.0 L503.0 431.8 L506.8 431.3 L518.0 427.5 L529.3 423.8 L538.6 422.4 L545.2 419.3 L555.5 418.7 L559.5 417.8 L570.8 419.3 L580.1 418.1 L591.4 419.3 L598.9 416.8 L612.0 415.5 L621.4 414.9 L630.8 415.9 L640.1 419.6 L649.5 420.6 L660.8 419.6 L672.0 417.8 L683.3 415.9 L690.8 414.9 L702.0 414.9 L711.4 414.4 L718.9 413.1 L722.3 413.1" stroke="#62b650" stroke-width="0.95" fill="none" stroke-linejoin="round"/>
<path d="M0.0 409.3 L4.1 401.8 L7.5 403.7 L10.3 407.4 L13.1 413.6 L16.0 410.8 L18.8 412.5 L22.1 412.1 L25.3 415.5 L30.0 417.4 L33.8 418.7 L36.6 413.6 L39.8 413.6 L42.8 417.4 L46.0 413.6 L47.8 415.0 L53.4 408.0 L56.3 407.4 L60.0 404.3 L63.8 401.8 L67.5 398.0 L70.3 406.5 L73.5 412.1 L77.8 405.0 L81.6 402.2 L84.8 408.4 L88.1 407.4 L91.0 410.3 L93.8 417.8 L97.5 423.4 L99.4 421.5 L102.2 426.8 L105.0 422.4 L107.8 423.4 L110.6 419.6 L113.4 417.8 L117.2 417.4 L120.0 410.3 L123.4 406.9 L126.0 408.8 L129.4 413.6 L131.3 413.1 L133.5 407.4 L136.0 414.4 L139.1 413.1 L141.6 417.4 L144.4 434.6 L147.2 436.1 L149.0 434.3 L151.0 425.3 L153.8 421.1 L156.6 423.4 L159.4 426.2 L165.0 430.5 L168.8 427.5 L173.4 423.8 L177.2 425.3 L180.0 428.1 L184.7 422.8 L187.8 422.4 L191.5 417.4 L196.2 421.5 L200.0 423.8 L202.8 428.6 L206.5 426.2 L211.2 426.8 L214.0 433.7 L216.8 436.5 L219.6 430.9 L222.4 432.4 L225.3 423.4 L228.0 423.4 L233.7 418.7 L237.4 423.8 L242.1 427.1 L245.9 431.8 L248.7 430.5 L254.3 435.0 L258.0 432.4 L260.9 434.6 L264.6 439.3 L268.4 440.3 L272.1 438.4 L275.9 433.1 L280.6 429.4 L284.3 430.9 L288.0 433.1 L291.8 433.7 L294.3 437.4 L296.5 424.3 L300.3 417.8 L305.9 424.3 L311.5 423.8 L314.3 418.7 L317.5 409.9 L320.0 412.1 L323.7 419.6 L328.4 422.4 L334.0 426.2 L337.8 427.5 L343.4 433.1 L346.8 424.3 L350.9 426.2 L354.6 424.9 L360.3 428.1 L364.0 430.9 L366.8 427.5 L369.6 420.6 L372.4 421.1 L375.5 424.3 L380.2 429.4 L383.0 419.6 L385.8 409.3 L388.6 410.3 L392.4 405.6 L395.2 402.4 L398.0 403.7 L401.8 409.3 L407.4 412.5 L412.0 412.1 L414.9 414.0 L417.7 402.8 L420.5 405.6 L423.3 412.5 L428.9 411.8 L432.7 418.1 L435.5 419.6 L438.3 425.3 L441.1 419.6 L444.9 421.1 L449.6 421.1 L452.8 427.1 L456.1 420.6 L458.9 418.1 L461.8 420.6 L464.6 426.8 L469.3 434.3 L472.1 436.1 L474.9 430.5 L480.5 433.1 L483.9 439.9 L486.5 428.6 L489.9 429.0 L493.6 429.4 L497.4 430.9 L501.1 432.4 L506.8 424.3 L509.9 416.3 L512.4 419.6 L516.1 418.1 L521.8 422.4 L524.6 422.4 L527.4 417.4 L531.1 419.3 L534.9 424.3 L538.6 425.6 L540.9 410.3 L545.2 415.9 L549.0 415.5 L552.7 418.1 L555.4 416.3 L558.6 421.1 L561.4 415.9 L567.0 421.5 L572.6 424.3 L578.3 418.7 L582.9 417.8 L586.7 416.3 L590.4 417.4 L593.3 413.1 L596.1 403.7 L598.9 404.3 L601.7 412.1 L605.4 415.9 L609.2 418.7 L613.5 423.4 L616.7 417.4 L621.4 412.5 L624.2 418.7 L627.0 423.0 L629.8 423.4 L633.0 426.2 L636.4 423.4 L638.6 423.8 L641.6 419.6 L644.3 423.8 L647.6 419.3 L650.4 418.1 L653.3 416.3 L656.1 418.7 L659.3 408.8 L662.3 414.9 L665.4 413.1 L669.2 414.0 L671.1 416.3 L673.9 423.0 L676.1 415.9 L679.1 419.3 L682.3 414.9 L685.1 409.3 L687.9 409.3 L690.8 414.0 L693.9 417.8 L697.3 414.4 L700.1 413.6 L702.0 414.4 L704.8 413.4 L710.4 413.1 L713.3 411.8 L716.1 414.9 L718.9 415.9 L722.3 413.1" stroke="#9670cc" stroke-width="0.9" fill="none" stroke-linejoin="round"/>
<rect x="0" y="0" width="194" height="19" fill="#fff59d" opacity="0.68"/>
<rect x="0" y="19" width="127" height="27" fill="#fff59d" opacity="0.62"/>
<circle cx="8.4" cy="8.7" r="6.6" fill="#1f6fdc"/>
<circle cx="8.4" cy="8.7" r="0.9" fill="#fff"/><circle cx="11.00" cy="8.70" r="0.55" fill="#fff" opacity="0.9"/><circle cx="12.12" cy="10.85" r="0.4" fill="#fff" opacity="0.7"/><circle cx="9.70" cy="10.95" r="0.55" fill="#fff" opacity="0.9"/><circle cx="8.40" cy="13.00" r="0.4" fill="#fff" opacity="0.7"/><circle cx="7.10" cy="10.95" r="0.55" fill="#fff" opacity="0.9"/><circle cx="4.68" cy="10.85" r="0.4" fill="#fff" opacity="0.7"/><circle cx="5.80" cy="8.70" r="0.55" fill="#fff" opacity="0.9"/><circle cx="4.68" cy="6.55" r="0.4" fill="#fff" opacity="0.7"/><circle cx="7.10" cy="6.45" r="0.55" fill="#fff" opacity="0.9"/><circle cx="8.40" cy="4.40" r="0.4" fill="#fff" opacity="0.7"/><circle cx="9.70" cy="6.45" r="0.55" fill="#fff" opacity="0.9"/><circle cx="12.12" cy="6.55" r="0.4" fill="#fff" opacity="0.7"/>
<g font-size="10.8" fill="#131722" stroke="#131722" stroke-width="0.3"><text x="18.5" y="12.7" textLength="41" lengthAdjust="spacingAndGlyphs">Cardano</text><text x="67.6" y="12.7" text-anchor="middle" stroke-width="0.1">/</text><text x="74.3" y="12.7" textLength="44.7" lengthAdjust="spacingAndGlyphs">TetherUS</text><text x="123" y="12.7" text-anchor="middle">·</text><text x="128.1" y="12.7" textLength="13.3" lengthAdjust="spacingAndGlyphs">1D</text><text x="145.3" y="12.7" text-anchor="middle">·</text><text x="150.8" y="12.7" textLength="39.2" lengthAdjust="spacingAndGlyphs">Binance</text></g>
<circle cx="203.1" cy="8.7" r="6.4" fill="#b7e0a6" opacity="0.75"/><circle cx="203.1" cy="8.7" r="2.7" fill="#00695c"/>
<text x="215.4" y="12.2" font-size="9" fill="#131722" textLength="34.8" lengthAdjust="spacingAndGlyphs" stroke-width="0.2" stroke="#131722">O<tspan fill="#089981" stroke="#089981">0.2468</tspan></text>
<text x="255.5" y="12.2" font-size="9" fill="#131722" textLength="34.0" lengthAdjust="spacingAndGlyphs" stroke-width="0.2" stroke="#131722">H<tspan fill="#089981" stroke="#089981">0.2498</tspan></text>
<text x="294.8" y="12.2" font-size="9" fill="#131722" textLength="32.4" lengthAdjust="spacingAndGlyphs" stroke-width="0.2" stroke="#131722">L<tspan fill="#089981" stroke="#089981">0.2461</tspan></text>
<text x="332.6" y="12.2" font-size="9" fill="#131722" textLength="33.4" lengthAdjust="spacingAndGlyphs" stroke-width="0.2" stroke="#131722">C<tspan fill="#089981" stroke="#089981">0.2496</tspan></text>
<text x="371.5" y="12.2" font-size="9" fill="#089981" stroke="#089981" stroke-width="0.2" textLength="70.5" lengthAdjust="spacingAndGlyphs">+0.0028 (+1.13%)</text>
<rect x="2.4" y="21" width="43.2" height="23.4" rx="3.2" fill="#fff" stroke="#f8707a" stroke-width="0.9"/>
<text x="23.9" y="30.9" font-size="9.3" fill="#f23645" font-weight="bold" text-anchor="middle" textLength="28.2" lengthAdjust="spacingAndGlyphs">0.2496</text>
<text x="23.7" y="40.9" font-size="8.3" fill="#f23645" font-weight="normal" text-anchor="middle" textLength="16.8" lengthAdjust="spacingAndGlyphs">SELL</text>
<text x="62.6" y="35.1" font-size="7.9" fill="#131722" font-weight="normal" text-anchor="middle" textLength="21.2" lengthAdjust="spacingAndGlyphs">0.0001</text>
<rect x="79.8" y="21" width="43.6" height="23.4" rx="3.2" fill="#fff" stroke="#4775ff" stroke-width="0.9"/>
<text x="101.6" y="30.9" font-size="9.3" fill="#2962ff" font-weight="bold" text-anchor="middle" textLength="28.2" lengthAdjust="spacingAndGlyphs">0.2497</text>
<text x="101.2" y="40.9" font-size="8.3" fill="#2962ff" font-weight="normal" text-anchor="middle" textLength="14.6" lengthAdjust="spacingAndGlyphs">BUY</text>
<rect x="2.4" y="50.2" width="22.1" height="13.9" rx="2" fill="#faf3a6" fill-opacity="0.9" stroke="#ebe7b8" stroke-width="0.9"/>
<path d="M6.5 56.4l2.9 2.4 2.9-2.4" stroke="#131722" stroke-width="1.1" fill="none"/>
<text x="16.2" y="59.9" font-size="8.7" fill="#131722" font-weight="normal" text-anchor="start">2</text>
<text x="990.2" y="36.99999999999998" font-size="9" fill="#131722" font-weight="normal" text-anchor="start" textLength="26.2" lengthAdjust="spacingAndGlyphs" stroke="#131722" stroke-width="0.15">0.8000</text>
<text x="990.2" y="76.80000000000004" font-size="9" fill="#131722" font-weight="normal" text-anchor="start" textLength="26.2" lengthAdjust="spacingAndGlyphs" stroke="#131722" stroke-width="0.15">0.7000</text>
<text x="990.2" y="116.60000000000002" font-size="9" fill="#131722" font-weight="normal" text-anchor="start" textLength="26.2" lengthAdjust="spacingAndGlyphs" stroke="#131722" stroke-width="0.15">0.6000</text>
<text x="990.2" y="156.4" font-size="9" fill="#131722" font-weight="normal" text-anchor="start" textLength="26.2" lengthAdjust="spacingAndGlyphs" stroke="#131722" stroke-width="0.15">0.5000</text>
<text x="990.2" y="275.0" font-size="9" fill="#131722" font-weight="normal" text-anchor="start" textLength="26.2" lengthAdjust="spacingAndGlyphs" stroke="#131722" stroke-width="0.15">0.2000</text>
<text x="990.2" y="315.6" font-size="9" fill="#131722" font-weight="normal" text-anchor="start" textLength="26.2" lengthAdjust="spacingAndGlyphs" stroke="#131722" stroke-width="0.15">0.1000</text>
<text x="990.2" y="355.40000000000003" font-size="9" fill="#131722" font-weight="normal" text-anchor="start" textLength="26.2" lengthAdjust="spacingAndGlyphs" stroke="#131722" stroke-width="0.15">0.0000</text>
<text x="990.2" y="389.5" font-size="8.7" fill="#131722" font-weight="normal" text-anchor="start" textLength="21" lengthAdjust="spacingAndGlyphs">75.00</text>
<text x="990.2" y="442.8" font-size="8.7" fill="#131722" font-weight="normal" text-anchor="start" textLength="21" lengthAdjust="spacingAndGlyphs">25.00</text>
<rect x="984.2" y="185.4" width="35.3" height="11.9" rx="0" fill="#0a0af0"/>
<text x="990.3" y="194.54999999999998" font-size="9.1" fill="#fff" font-weight="normal" text-anchor="start" textLength="26.4" lengthAdjust="spacingAndGlyphs" stroke="#fff" stroke-width="0.25">0.3773</text>
<rect x="984.2" y="197.5" width="35.3" height="11.7" rx="0" fill="#f23645"/>
<text x="990.3" y="206.54999999999998" font-size="9.1" fill="#fff" font-weight="normal" text-anchor="start" textLength="26.4" lengthAdjust="spacingAndGlyphs" stroke="#fff" stroke-width="0.25">0.3391</text>
<rect x="984.2" y="209.5" width="35.3" height="24.6" rx="0" fill="#f23645"/>
<text x="990.3" y="218.9" font-size="9.1" fill="#fff" font-weight="normal" text-anchor="start" textLength="26.4" lengthAdjust="spacingAndGlyphs" stroke="#fff" stroke-width="0.25">0.2726</text>
<text x="990.3" y="231.1" font-size="9.1" fill="#fff" font-weight="normal" text-anchor="start" textLength="26.4" lengthAdjust="spacingAndGlyphs" stroke="#fff" stroke-width="0.25">0.2573</text>
<rect x="984.2" y="234.3" width="35.3" height="12.0" rx="0" fill="#ce93d8"/>
<text x="990.3" y="243.5" font-size="9.1" fill="#131722" font-weight="normal" text-anchor="start" textLength="26.4" lengthAdjust="spacingAndGlyphs" stroke="#131722" stroke-width="0.25">0.2497</text>
<rect x="984.2" y="246.4" width="40" height="22.6" fill="#089981"/>
<text x="990.3" y="255.6" font-size="9.1" fill="#fff" font-weight="normal" text-anchor="start" textLength="26.4" lengthAdjust="spacingAndGlyphs" stroke="#fff" stroke-width="0.25">0.2496</text>
<text x="990.3" y="267.0" font-size="9.1" fill="#d9f0ea" font-weight="normal" text-anchor="start" textLength="34.6" lengthAdjust="spacingAndGlyphs" stroke="#d9f0ea" stroke-width="0.2">19:24:42</text>
<rect x="942.1" y="246.9" width="40.6" height="10.8" rx="1" fill="#089981"/>
<text x="945.6" y="255.7" font-size="8.9" fill="#fff" font-weight="normal" text-anchor="start" textLength="33.9" lengthAdjust="spacingAndGlyphs" stroke="#fff" stroke-width="0.2">ADAUSDT</text>
<rect x="984.1" y="373.2" width="38.9" height="11.2" rx="1" fill="#26a69a"/>
<text x="990.4" y="382.0" font-size="9.1" fill="#fff" font-weight="normal" text-anchor="start" textLength="30.4" lengthAdjust="spacingAndGlyphs" stroke="#fff" stroke-width="0.25">14.04M</text>
<rect x="984.2" y="408.1" width="31" height="11.9" rx="0.8" fill="#7e57c2"/>
<text x="990.3" y="417.25" font-size="9.1" fill="#fff" font-weight="normal" text-anchor="start" textLength="21.8" lengthAdjust="spacingAndGlyphs" stroke="#fff" stroke-width="0.25">49.19</text>
<rect x="984.2" y="420.2" width="31" height="11.4" rx="0.8" fill="#4caf50"/>
<text x="990.3" y="429.09999999999997" font-size="9.1" fill="#fff" font-weight="normal" text-anchor="start" textLength="21.8" lengthAdjust="spacingAndGlyphs" stroke="#fff" stroke-width="0.25">49.12</text>
<text x="33.4" y="459.2" font-size="8.7" fill="#131722" font-weight="normal" text-anchor="middle">Sep</text>
<text x="120" y="459.2" font-size="8.7" fill="#131722" font-weight="normal" text-anchor="middle">Oct</text>
<text x="208.7" y="459.2" font-size="8.7" fill="#131722" font-weight="normal" text-anchor="middle">Nov</text>
<text x="295.4" y="459.2" font-size="8.7" fill="#131722" font-weight="normal" text-anchor="middle">Dec</text>
<text x="383.9" y="459.2" font-size="8.7" fill="#131722" font-weight="bold" text-anchor="middle">2026</text>
<text x="473.2" y="459.2" font-size="8.7" fill="#131722" font-weight="normal" text-anchor="middle">Feb</text>
<text x="553.9" y="459.2" font-size="8.7" fill="#131722" font-weight="normal" text-anchor="middle">Mar</text>
<text x="642.3" y="459.2" font-size="8.7" fill="#131722" font-weight="normal" text-anchor="middle">Apr</text>
<text x="728.5" y="459.2" font-size="8.7" fill="#131722" font-weight="normal" text-anchor="middle">May</text>
<text x="817" y="459.2" font-size="8.7" fill="#131722" font-weight="normal" text-anchor="middle">Jun</text>
<text x="903.5" y="459.2" font-size="8.7" fill="#131722" font-weight="normal" text-anchor="middle">Jul</text>
<g transform="translate(1007.9,456.6)" stroke="#131722" stroke-width="1" fill="none" stroke-linejoin="round"><path d="M-2.6 -4.5h5.2l2.6 4.5-2.6 4.5h-5.2l-2.6-4.5z"/><ellipse rx="2" ry="1.7"/></g>
<g stroke="#fffbd8" stroke-width="2.8" stroke-linejoin="round" fill="#141414" paint-order="stroke"><path d="M3.9 424.9h9.4v10.7h-4.7v-6.2H3.9z"/><circle cx="16.7" cy="427.2" r="2.3"/><path d="M21.4 424.9h5l-4.5 10.7h-5z"/><text x="31.1" y="435.5" font-size="15" font-weight="bold" textLength="87.2" lengthAdjust="spacingAndGlyphs" stroke-width="2.6">TradingView</text></g>
</svg>
</body></html>
